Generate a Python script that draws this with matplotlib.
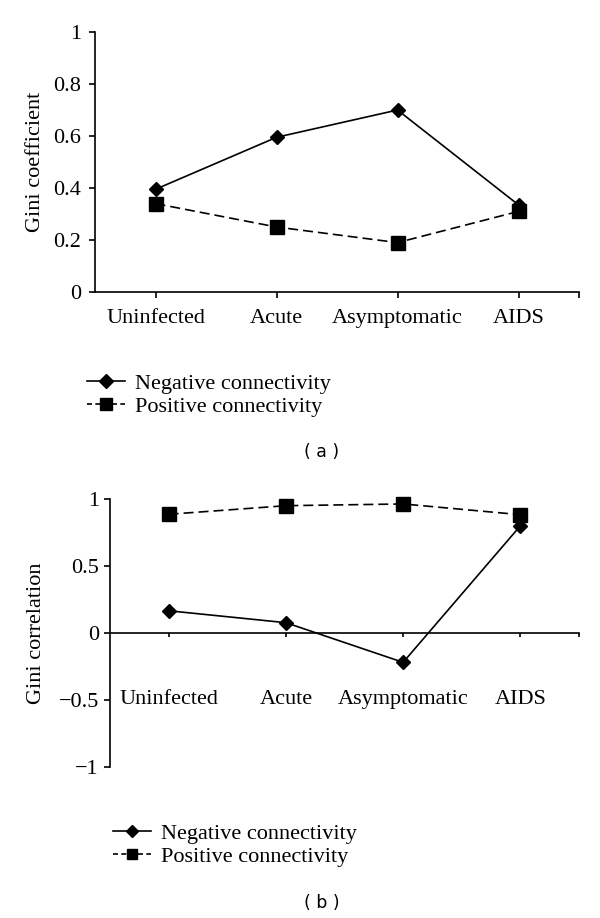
import matplotlib
matplotlib.use("Agg")
import matplotlib.pyplot as plt
from matplotlib.lines import Line2D

# --- data
stages = ["Uninfected", "Acute", "Asymptomatic", "AIDS"]
neg_coef = [0.395, 0.595, 0.70, 0.335]
pos_coef = [0.34, 0.25, 0.19, 0.31]
neg_corr = [0.166, 0.077, -0.219, 0.80]
pos_corr = [0.886, 0.95, 0.963, 0.883]
coef_ticks = [0, 0.2, 0.4, 0.6, 0.8, 1]
coef_labels = ["0", "0.2", "0.4", "0.6", "0.8", "1"]
corr_ticks = [-1, -0.5, 0, 0.5, 1]
corr_labels = ["\u22121", "\u22120.5", "0", "0.5", "1"]
series_names = ["Negative connectivity", "Positive connectivity"]

plt.rcParams['font.family'] = ['Liberation Serif', 'DejaVu Serif']
FS = 16

fig = plt.figure(figsize=(6, 9.18), dpi=100)
W, H = 600.0, 918.0


def px_axes(l, t, r, b):
    return fig.add_axes([l / W, 1 - b / H, (r - l) / W, (b - t) / H])


def draw_lines(ax, neg, pos):
    x = range(len(stages))
    ax.plot(x, neg, color="black", lw=1.2, marker="D", ms=7.5, mfc="black",
            mec="black", clip_on=False, zorder=3)
    ax.plot(x, pos, color="black", lw=1.2, ls=(0, (6, 3)), marker="s",
            ms=9.5, mfc="black", mec="black", clip_on=False, zorder=3)


def add_legend(x0, y_top, msd, mss):
    handles = [
        Line2D([], [], color="black", lw=1.2, marker="D", ms=msd),
        Line2D([], [], color="black", lw=1.2, ls=(0, (3, 2)), marker="s", ms=mss),
    ]
    fig.legend(handles, series_names, loc="upper left",
               bbox_to_anchor=(x0 / W, 1 - y_top / H), frameon=False,
               fontsize=FS, handlelength=1.7, handletextpad=0.45,
               labelspacing=0.12, borderpad=0, borderaxespad=0)


# ---- panel (a)
ax1 = px_axes(95, 32, 579, 292)
draw_lines(ax1, neg_coef, pos_coef)
ax1.set_xlim(-0.5, 3.5)
ax1.set_ylim(0, 1)
ax1.set_yticks(coef_ticks)
ax1.set_yticklabels(coef_labels)
ax1.set_xticks(list(range(len(stages))) + [3.5])
ax1.set_xticklabels(stages + [""])
ax1.spines["top"].set_visible(False)
ax1.spines["right"].set_visible(False)
for s in ("left", "bottom"):
    ax1.spines[s].set_linewidth(1.2)
ax1.tick_params(axis="both", direction="out", length=4, width=1.2, labelsize=FS)
ax1.tick_params(axis="y", pad=6)
ax1.tick_params(axis="x", pad=8)
ax1.set_ylabel("Gini coefficient", fontsize=FS, labelpad=6)

add_legend(87, 373, 7, 8.5)
fig.text(322 / W, 1 - 452 / H, "( a )", family="DejaVu Sans", fontsize=12.5,
         ha="center", va="center")

# ---- panel (b)
ax2 = px_axes(110, 499, 579, 767)
draw_lines(ax2, neg_corr, pos_corr)
ax2.set_xlim(-0.5, 3.5)
ax2.set_ylim(-1, 1)
ax2.set_yticks(corr_ticks)
ax2.set_yticklabels(corr_labels)
ax2.set_xticks(list(range(len(stages))) + [3.5])
ax2.set_xticklabels(stages + [""])
ax2.spines["top"].set_visible(False)
ax2.spines["right"].set_visible(False)
ax2.spines["bottom"].set_position(("data", 0))
for s in ("left", "bottom"):
    ax2.spines[s].set_linewidth(1.2)
ax2.tick_params(axis="both", direction="out", length=4, width=1.2, labelsize=FS)
ax2.tick_params(axis="y", pad=4)
ax2.tick_params(axis="x", length=3, pad=38)
ax2.set_ylabel("Gini correlation", fontsize=FS, labelpad=9)

add_legend(113, 823, 6.5, 7.5)
fig.text(322 / W, 1 - 903 / H, "( b )", family="DejaVu Sans", fontsize=12.5,
         ha="center", va="center")

fig.savefig("out.png", dpi=100)
